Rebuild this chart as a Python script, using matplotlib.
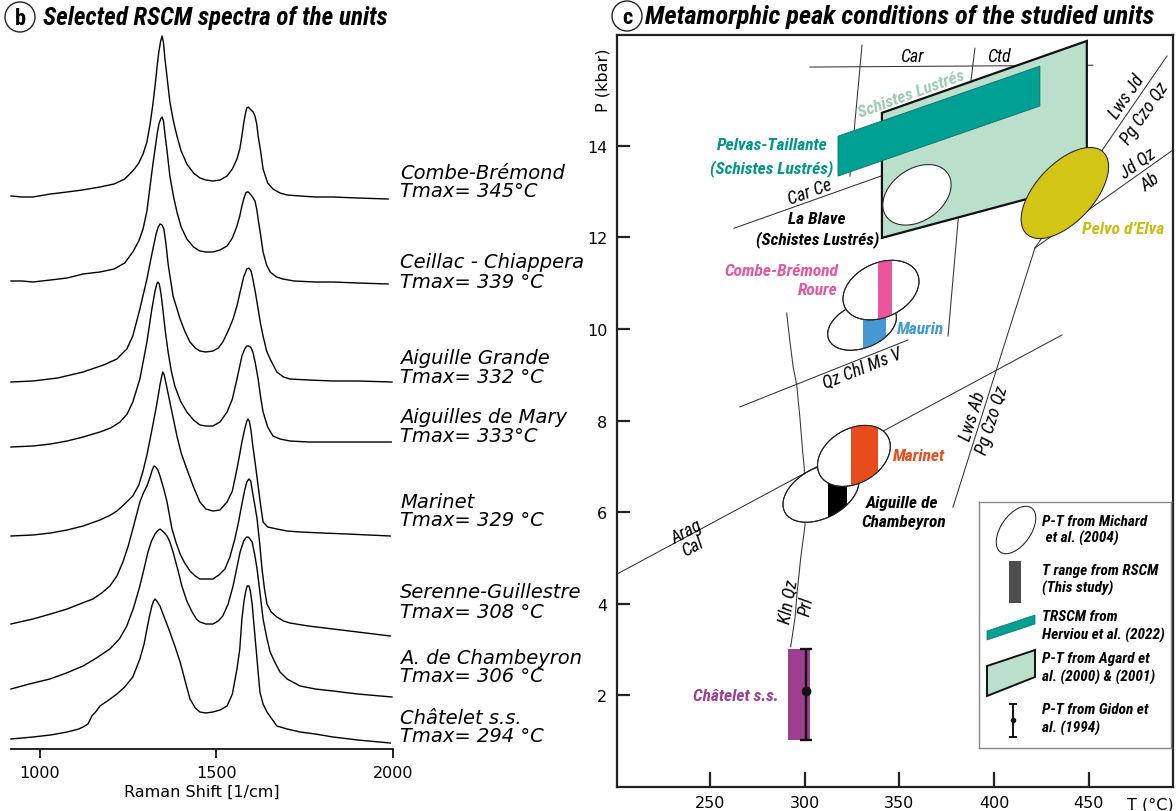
import numpy as np
import matplotlib
matplotlib.use("Agg")
import matplotlib.pyplot as plt
from matplotlib import font_manager as fm
from matplotlib.patches import Polygon, Rectangle, Ellipse

# ------------------------------------------------------------------ data
# Raman spectra (wavenumber in 1/cm, stacked intensity in arbitrary units)
wn_combe = [918, 950, 980, 1030, 1077, 1120, 1170, 1210, 1240, 1263, 1280, 1292, 1303, 1312, 1320, 1326,
            1332, 1337, 1342, 1346, 1350, 1354, 1360, 1368, 1378, 1388, 1400, 1416, 1435, 1453, 1470,
            1490, 1510, 1530, 1545, 1558, 1566, 1572, 1578, 1583, 1586, 1590, 1598, 1604, 1609, 1614,
            1618, 1625, 1632, 1645, 1660, 1680, 1700, 1737, 1780, 1830, 1900, 1986]
in_combe = [553, 552, 552, 555, 557, 559, 562, 565, 570, 578, 586, 595, 607, 625, 645, 663,
            683, 698, 708, 713, 706, 690, 672, 647, 628, 613, 598, 585, 576, 571, 569,
            568, 569, 573, 580, 590, 600, 613, 628, 637, 641, 642, 639, 637, 633, 625,
            613, 598, 580, 566, 560, 556, 554, 553, 552, 552, 551, 550]

wn_ceillac = [918, 950, 980, 1030, 1077, 1122, 1170, 1210, 1240, 1263, 1280, 1292, 1303, 1312, 1320, 1326,
              1332, 1337, 1342, 1346, 1350, 1354, 1360, 1368, 1378, 1388, 1400, 1416, 1435, 1453, 1470,
              1490, 1510, 1530, 1545, 1558, 1566, 1572, 1578, 1583, 1586, 1590, 1598, 1604, 1609, 1614,
              1618, 1625, 1632, 1642, 1652, 1670, 1688, 1720, 1780, 1830, 1900, 1986]
in_ceillac = [468, 468, 467, 469, 471, 475, 477, 480, 486, 497, 508, 520, 538, 563, 585, 600,
              615, 625, 630, 632, 628, 615, 598, 573, 553, 537, 522, 510, 502, 498, 497,
              497, 499, 503, 511, 523, 533, 543, 551, 556, 557, 557, 554, 551, 548, 540,
              530, 514, 497, 484, 477, 472, 470, 468, 467, 467, 466, 465]

wn_grande = [918, 980, 1050, 1122, 1180, 1218, 1246, 1263, 1283, 1303, 1317, 1329, 1335, 1340, 1346,
             1351, 1357, 1363, 1377, 1397, 1410, 1425, 1440, 1453, 1470, 1490, 1505, 1518, 1533, 1547,
             1558, 1567, 1577, 1586, 1592, 1598, 1603, 1610, 1618, 1625, 1632, 1642, 1652, 1671, 1690,
             1708, 1760, 1830, 1900, 1997]
in_grande = [367, 368, 371, 377, 384, 390, 400, 413, 440, 470, 495, 515, 522, 525, 524,
             520, 505, 485, 453, 430, 418, 407, 401, 398, 397, 398, 401, 407, 418, 430,
             443, 457, 472, 480, 481, 478, 470, 457, 440, 425, 413, 398, 390, 377, 372,
             370, 369, 368, 368, 367]

wn_mary = [918, 980, 1030, 1077, 1122, 1170, 1200, 1227, 1247, 1263, 1283, 1303, 1317, 1326, 1331, 1334,
           1338, 1343, 1348, 1355, 1363, 1372, 1382, 1398, 1416, 1435, 1453, 1470, 1490, 1510, 1530,
           1545, 1558, 1566, 1572, 1580, 1586, 1592, 1598, 1603, 1610, 1618, 1625, 1632, 1645, 1660,
           1680, 1708, 1760, 1830, 1900, 1995]
in_mary = [302, 303, 305, 308, 312, 317, 321, 327, 335, 347, 370, 407, 440, 458, 465, 467,
           465, 455, 440, 418, 397, 378, 363, 348, 337, 329, 324, 323, 323, 327, 337,
           350, 370, 383, 393, 400, 403, 403, 401, 397, 386, 370, 352, 337, 322, 313,
           310, 308, 307, 307, 307, 307]

wn_marinet = [918, 980, 1030, 1077, 1122, 1170, 1200, 1218, 1240, 1263, 1280, 1292, 1303, 1312, 1322, 1331,
              1340, 1345, 1348, 1352, 1358, 1368, 1378, 1388, 1400, 1416, 1435, 1453, 1470, 1490, 1510,
              1530, 1545, 1558, 1566, 1572, 1580, 1586, 1589, 1593, 1598, 1603, 1610, 1618, 1625, 1632,
              1645, 1671, 1700, 1737, 1800, 1870, 1992]
in_marinet = [213, 214, 216, 219, 223, 229, 234, 238, 245, 253, 264, 278, 294, 310, 328, 345,
              364, 373, 377, 374, 364, 347, 330, 313, 296, 280, 262, 247, 240, 238, 239,
              247, 258, 280, 295, 307, 320, 328, 330, 328, 318, 303, 285, 263, 244, 227,
              222, 220, 218, 217, 216, 215, 213]

wn_serenne = [918, 980, 1030, 1077, 1120, 1150, 1175, 1198, 1218, 1235, 1250, 1263, 1275, 1283, 1293, 1303,
              1313, 1318, 1323, 1328, 1334, 1340, 1350, 1360, 1374, 1385, 1397, 1410, 1425, 1440, 1453,
              1470, 1490, 1507, 1524, 1538, 1552, 1562, 1572, 1580, 1586, 1592, 1597, 1603, 1609, 1615,
              1622, 1629, 1636, 1643, 1655, 1671, 1690, 1708, 1760, 1830, 1900, 1992]
in_serenne = [125, 130, 135, 140, 146, 150, 156, 163, 173, 187, 203, 220, 236, 247, 256, 263,
              273, 279, 283, 282, 279, 273, 261, 247, 220, 207, 195, 186, 178, 173, 170,
              170, 170, 174, 180, 192, 210, 226, 245, 259, 267, 270, 268, 255, 243, 230,
              207, 180, 160, 145, 137, 132, 128, 126, 123, 120, 117, 113]

wn_chamb = [918, 970, 1028, 1075, 1122, 1160, 1198, 1225, 1246, 1265, 1283, 1296, 1306, 1316, 1326, 1333,
            1340, 1347, 1353, 1360, 1368, 1377, 1390, 1402, 1416, 1431, 1443, 1453, 1470, 1490, 1505,
            1518, 1533, 1547, 1557, 1567, 1577, 1583, 1586, 1590, 1595, 1601, 1608, 1615, 1623, 1632,
            1642, 1652, 1665, 1680, 1700, 1737, 1780, 1830, 1900, 1997]
in_chamb = [60, 65, 70, 76, 83, 91, 100, 110, 123, 141, 163, 182, 197, 208, 215, 218,
            220, 218, 216, 213, 207, 197, 180, 163, 148, 137, 130, 127, 125, 125, 128,
            133, 145, 163, 180, 197, 208, 211, 212, 212, 210, 207, 195, 180, 157, 130,
            112, 97, 87, 77, 70, 63, 60, 58, 55, 52]

wn_chat = [918, 980, 1030, 1077, 1110, 1122, 1136, 1147, 1160, 1170, 1195, 1218, 1240, 1263, 1283, 1295,
           1303, 1311, 1317, 1322, 1326, 1331, 1340, 1354, 1368, 1383, 1397, 1412, 1425, 1440, 1453,
           1470, 1490, 1510, 1530, 1545, 1558, 1566, 1572, 1578, 1583, 1587, 1592, 1596, 1601, 1609,
           1616, 1623, 1632, 1643, 1657, 1671, 1700, 1737, 1780, 1830, 1900, 1992]
in_chat = [10, 12, 14, 17, 20, 22, 25, 33, 38, 43, 49, 55, 62, 72, 90, 105,
           120, 134, 143, 148, 150, 148, 143, 130, 117, 102, 87, 67, 50, 41, 37,
           36, 37, 39, 43, 55, 80, 100, 130, 148, 158, 163, 163, 158, 145, 113,
           85, 57, 45, 37, 30, 23, 20, 17, 15, 12, 9, 6]

spec_names = ["Combe-Brémond", "Ceillac - Chiappera", "Aiguille Grande", "Aiguilles de Mary",
              "Marinet", "Serenne-Guillestre", "A. de Chambeyron", "Châtelet s.s."]
spec_tmax = ["Tmax= 345°C", "Tmax= 339 °C", "Tmax= 332 °C", "Tmax= 333°C",
             "Tmax= 329 °C", "Tmax= 308 °C", "Tmax= 306 °C", "Tmax= 294 °C"]
label_name_y = [577, 488, 392, 333, 248, 157, 92, 31]
label_tmax_y = [559, 468, 373, 314, 229, 138, 73, 13]
spec_ticks = [1000, 1500, 2000]

# P-T diagram (T in °C, P in kbar)
agard_T = [340.8, 449.0, 449.0, 340.8]
agard_P = [14.72, 16.29, 13.19, 11.99]
herviou_T = [317.6, 424.2, 424.2, 317.6]
herviou_P = [14.21, 15.74, 14.87, 13.34]

car_ctd_T, car_ctd_P = [302.8, 452.2], [15.72, 15.76]
car_T, car_P = [330.3, 323.9], [16.20, 13.34]
ctd_T, ctd_P = [389.9, 387.8], [16.13, 15.41]
carce_T, carce_P = [262.7, 340.3], [12.20, 13.34]
blave_T, blave_P = [381.5, 375.7], [12.60, 9.85]
qzchl_T, qzchl_P = [265.8, 354.5], [8.30, 9.76]
arag_T, arag_P = [200.9, 435.9], [4.65, 9.87]
kln_T = [290.5, 292.2, 294.0, 295.8, 297.5, 298.9, 299.8, 300.2, 297.9, 296.1, 294.9, 292.6]
kln_P = [10.35, 9.73, 9.15, 8.78, 8.06, 7.34, 6.97, 5.72, 5.00, 4.28, 3.69, 3.06]
lwsab_T, lwsab_P = [378.3, 421.6], [6.11, 11.77]
jdqz_T, jdqz_P = [421.6, 494.5], [11.77, 13.91]
lwsjd_T, lwsjd_P = [421.6, 491.3], [11.77, 15.96]

# ellipses: centre T, centre P, semi-axes (°C equivalent), tilt (deg, on screen)
ell_blave = (359.3, 12.93, 19.8, 13.7, 35)
ell_pelvo = (437.4, 12.97, 29.6, 15.3, 47)
ell_combe = (340.3, 10.85, 21.1, 14.3, 25)
ell_maurin = (330.3, 10.07, 19.0, 11.6, 22)
ell_marinet = (326.0, 7.23, 20.6, 14.3, 30)
ell_chamb = (308.6, 6.42, 21.6, 13.2, 28)

# RSCM temperature ranges (°C)
rscm_combe = (338.7, 346.1)
rscm_maurin = (330.8, 342.9)
rscm_marinet = (324.4, 338.7)
rscm_chamb = (312.3, 322.3)
chat_T = (291.2, 302.8)
chat_P = (1.03, 3.01)
gidon_T, gidon_P, gidon_lo, gidon_hi = 300.5, 2.09, 1.03, 3.01

pt_xticks = [250, 300, 350, 400, 450]
pt_yticks = [2, 4, 6, 8, 10, 12, 14]

# ------------------------------------------------------------------ fonts / colours
avail = {f.name for f in fm.fontManager.ttflist}
COND = next((f for f in ["Liberation Sans Narrow", "DejaVu Sans Condensed", "Roboto Condensed",
                         "Open Sans Condensed", "Lato"] if f in avail), "DejaVu Sans")
plt.rcParams["font.family"] = ["DejaVu Sans"]

C_GREEN = "#badfcb"
C_TEAL = "#00a094"
C_YEL = "#d3c516"
C_PINK = "#ea559b"
C_BLUE = "#4499d3"
C_ORANGE = "#e84c1c"
C_PURPLE = "#9c3f8f"

W, H = 1176, 812
fig = plt.figure(figsize=(W / 100, H / 100), dpi=100)


def fx(px):
    return px / W


def fy(py):
    return 1 - py / H


# ------------------------------------------------------------------ panel b
ax1 = fig.add_axes([fx(11), fy(750), (393 - 11) / W, 730 / H])
ax1.set_xlim(918, 2000)
ax1.set_ylim(0, 730)
for s in ["left", "right", "top"]:
    ax1.spines[s].set_visible(False)
ax1.spines["bottom"].set_linewidth(1.2)
ax1.set_yticks([])
ax1.set_xticks(spec_ticks)
ax1.tick_params(axis="x", direction="out", length=6.5, width=1.2, labelsize=11.5, pad=5)
ax1.set_xlabel("Raman Shift [1/cm]", fontsize=11.5, labelpad=3)
ax1.patch.set_alpha(0)

spectra = [(wn_combe, in_combe), (wn_ceillac, in_ceillac), (wn_grande, in_grande), (wn_mary, in_mary),
           (wn_marinet, in_marinet), (wn_serenne, in_serenne), (wn_chamb, in_chamb), (wn_chat, in_chat)]
for (w, i) in spectra:
    ax1.plot(w, i, color="black", lw=1.0, solid_joinstyle="round", clip_on=False)

for nm, tm, yn, yt in zip(spec_names, spec_tmax, label_name_y, label_tmax_y):
    ax1.text(2020, yn, nm, fontsize=14, style="italic", ha="left", va="center", clip_on=False)
    ax1.text(2020, yt, tm, fontsize=14, style="italic", ha="left", va="center", clip_on=False)

# ------------------------------------------------------------------ panel c
ax2 = fig.add_axes([fx(617), fy(788), (1173 - 617) / W, (788 - 36) / H])
ax2.set_xlim(200.9, 494.5)
ax2.set_ylim(0.0, 16.42)
for s in ax2.spines.values():
    s.set_linewidth(1.6)
    s.set_color("#222222")
ax2.set_xticks(pt_xticks)
ax2.set_yticks(pt_yticks)
ax2.tick_params(axis="x", direction="in", length=11, width=1.6, labelsize=11.5, pad=6, color="#222222")
ax2.tick_params(axis="y", direction="in", length=9.5, width=1.6, labelsize=11.5, pad=7, color="#222222")

# pixel ratio for isotropic ellipses
bb = ax2.get_position()
px_per_T = bb.width * W / (494.5 - 200.9)
px_per_P = bb.height * H / (16.42 - 0.0)
K = px_per_P / px_per_T


def ellipse_xy(e):
    tc, pc, a, b, ang = e
    t = np.linspace(0, 2 * np.pi, 240)
    th = np.radians(ang)
    dT = a * np.cos(t) * np.cos(th) - b * np.sin(t) * np.sin(th)
    dP = a * np.cos(t) * np.sin(th) + b * np.sin(t) * np.cos(th)
    return np.column_stack([tc + dT, pc + dP / K])


LINE_KW = dict(color="#333333", lw=0.75, zorder=1)
for tt, pp in [(car_ctd_T, car_ctd_P), (car_T, car_P), (ctd_T, ctd_P), (carce_T, carce_P),
               (blave_T, blave_P), (qzchl_T, qzchl_P), (arag_T, arag_P), (kln_T, kln_P),
               (lwsab_T, lwsab_P), (jdqz_T, jdqz_P), (lwsjd_T, lwsjd_P)]:
    ax2.plot(tt, pp, **LINE_KW)

ax2.add_patch(Polygon(np.column_stack([agard_T, agard_P]), closed=True, facecolor=C_GREEN,
                      edgecolor="#111111", lw=1.6, zorder=2, joinstyle="miter"))
ax2.add_patch(Polygon(np.column_stack([herviou_T, herviou_P]), closed=True, facecolor=C_TEAL,
                      edgecolor="#0b6f67", lw=0.6, zorder=3))


def white_ellipse(e, z, face="white"):
    p = Polygon(ellipse_xy(e), closed=True, facecolor=face, edgecolor="#222222", lw=0.75, zorder=z)
    ax2.add_patch(p)
    return p


def clipped_bar(ell_patch, trange, color, z):
    r = Rectangle((trange[0], 0), trange[1] - trange[0], 17, facecolor=color, edgecolor="none", zorder=z)
    ax2.add_patch(r)
    r.set_clip_path(ell_patch)
    o = Polygon(ell_patch.get_xy(), closed=True, fill=False, edgecolor="#222222", lw=0.75, zorder=z + 0.05)
    ax2.add_patch(o)


white_ellipse(ell_blave, 4)
white_ellipse(ell_pelvo, 4, face=C_YEL)

pm = white_ellipse(ell_maurin, 4)
clipped_bar(pm, rscm_maurin, C_BLUE, 4.1)
pc = white_ellipse(ell_combe, 5)
clipped_bar(pc, rscm_combe, C_PINK, 5.1)

pch = white_ellipse(ell_chamb, 4)
clipped_bar(pch, rscm_chamb, "black", 4.1)
pma = white_ellipse(ell_marinet, 5)
clipped_bar(pma, rscm_marinet, C_ORANGE, 5.1)

ax2.add_patch(Rectangle((chat_T[0], chat_P[0]), chat_T[1] - chat_T[0], chat_P[1] - chat_P[0],
                        facecolor=C_PURPLE, edgecolor="none", zorder=4))
ax2.errorbar([gidon_T], [gidon_P], yerr=[[gidon_P - gidon_lo], [gidon_hi - gidon_P]], fmt="o",
             color="#111111", ms=6, elinewidth=1.7, capsize=4, capthick=1.7, zorder=6)


def ptext(x, y, s, color="black", size=12.5, weight="bold", rot=0, ha="center", va="center"):
    ax2.text(x, y, s, color=color, fontsize=size, fontweight=weight, fontstyle="italic", family=COND,
             rotation=rot, ha=ha, va=va, rotation_mode="anchor", zorder=10)


ptext(356.7, 15.96, "Car", weight="normal", size=13)
ptext(402.6, 15.96, "Ctd", weight="normal", size=13)
ptext(356.1, 15.15, "Schistes Lustrés", color="#9ccab0", size=12.5, rot=20)
ptext(302.8, 13.01, "Car Ce", weight="normal", size=13, rot=20)
ptext(282.7, 14.02, "Pelvas-Taillante", color="#00978a")
ptext(282.7, 13.52, "(Schistes Lustrés)", color="#00978a")
ptext(306.5, 12.42, "La Blave")
ptext(307.0, 11.97, "(Schistes Lustrés)")
ptext(470.2, 15.09, "Lws Jd", weight="normal", size=13, rot=55.5)
ptext(479.7, 14.73, "Pg Czo Qz", weight="normal", size=13, rot=55.5)
ptext(476.0, 13.62, "Jd Qz", weight="normal", size=13, rot=35.5)
ptext(482.3, 13.23, "Ab", weight="normal", size=13, rot=35.5)
ptext(468.1, 12.20, "Pelvo d’Elva", color="#cbbd10")
ptext(317.6, 11.27, "Combe-Brémond", color="#e5589c", ha="right")
ptext(317.6, 10.87, "Roure", color="#e5589c", ha="right")
ptext(348.7, 10.02, "Maurin", color="#3f9ad6", ha="left")
ptext(330.3, 9.15, "Qz Chl Ms V", weight="normal", size=13, rot=21.7)
ptext(237.9, 5.59, "Arag", weight="normal", size=13, rot=28.2)
ptext(240.5, 5.26, "Cal", weight="normal", size=13, rot=28.2)
ptext(346.6, 7.23, "Marinet", color=C_ORANGE, ha="left")
ptext(351.4, 6.22, "Aiguille de")
ptext(352.4, 5.79, "Chambeyron")
ptext(388.9, 8.12, "Lws Ab", weight="normal", size=13, rot=72.4)
ptext(398.9, 8.02, "Pg Czo Qz", weight="normal", size=13, rot=72.4)
ptext(291.7, 4.06, "Kln Qz", weight="normal", size=13, rot=80)
ptext(300.7, 3.95, "Prl", weight="normal", size=13, rot=80)
ptext(263.5, 1.99, "Châtelet s.s.", color=C_PURPLE)

fig.text(fx(603), fy(80), "P (kbar)", rotation=90, ha="center", va="center", fontsize=11.5)
fig.text(fx(1150), fy(805), "T (°C)", ha="center", va="center", fontsize=11.5)

# ------------------------------------------------------------------ legend box
lg = fig.add_axes([fx(979), fy(749), 192 / W, 246 / H])
lg.set_xlim(0, 192)
lg.set_ylim(0, 246)
lg.set_xticks([])
lg.set_yticks([])
for s in lg.spines.values():
    s.set_color("#888888")
    s.set_linewidth(1.0)
lg.add_patch(Ellipse((37, 218), 54, 30, angle=55, facecolor="white", edgecolor="#222222", lw=0.75))
lg.add_patch(Rectangle((30, 145), 12, 42, facecolor="#4d4d4d", edgecolor="none"))
lg.add_patch(Polygon([(8, 108), (56, 124), (56, 133), (8, 117)], closed=True, facecolor=C_TEAL,
                     edgecolor="#0b6f67", lw=0.5))
lg.add_patch(Polygon([(8, 52), (56, 71), (56, 98), (8, 82)], closed=True, facecolor=C_GREEN,
                     edgecolor="#111111", lw=1.4))
lg.errorbar([34], [28], yerr=[[17], [16]], fmt="o", color="#111111", ms=3, elinewidth=1.4,
            capsize=3, capthick=1.4)
leg_texts = [("P-T from Michard", 227), (" et al. (2004)", 211), ("T range from RSCM", 178),
             ("(This study)", 161), ("TRSCM from", 132), ("Herviou et al. (2022)", 114),
             ("P-T from Agard et", 90), ("al. (2000) & (2001)", 72), ("P-T from Gidon et", 39),
             ("al. (1994)", 21)]
for s, yy in leg_texts:
    lg.text(63, yy, s, fontsize=11, fontweight="bold", fontstyle="italic", family=COND,
            ha="left", va="center")

# ------------------------------------------------------------------ titles
for cx, cy, letter, tx, title, fs in [(20, 18, "b", 43, "Selected RSCM spectra of the units", 18),
                                      (627, 17, "c", 645, "Metamorphic peak conditions of the studied units", 19)]:
    fig.add_artist(Ellipse((fx(cx), fy(cy)), 30 / W, 30 / H, transform=fig.transFigure,
                           facecolor="white", edgecolor="#222222", lw=1.0))
    fig.text(fx(cx), fy(cy + 1), letter, ha="center", va="center", fontsize=16, fontweight="bold",
             family=COND)
    fig.text(fx(tx), fy(cy), title, ha="left", va="center", fontsize=fs, fontweight="bold",
             fontstyle="italic", family=COND)

fig.savefig("out.png", dpi=100)
